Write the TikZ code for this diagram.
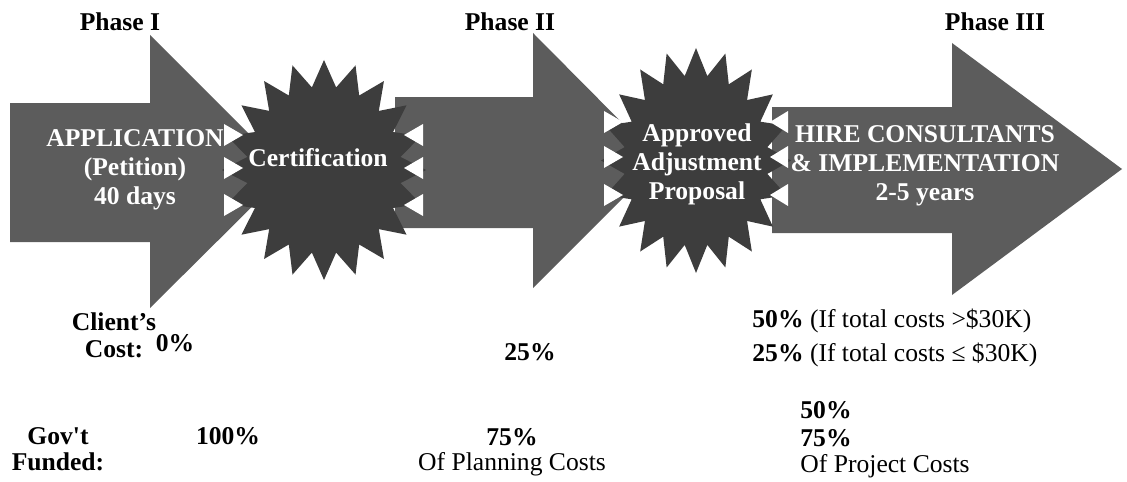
\documentclass[tikz,border=0pt]{standalone}
\usepackage{fontspec}
\setmainfont{Liberation Serif}
\definecolor{arrowgray}{gray}{0.36}
\definecolor{burstgray}{gray}{0.24}
\tikzset{
  phase/.style={font=\fontsize{12.8}{14.5}\selectfont\bfseries, inner sep=0pt},
  inlabel/.style={phase, text=white, align=center},
  cost/.style={font=\fontsize{12.8}{14.5}\selectfont, inner sep=0pt},
  blockarrow/.style={fill=arrowgray},
  burst/.style={fill=burstgray},
  notch/.style={fill=white}
}
\begin{document}
\begin{tikzpicture}[x=0.5pt,y=-0.5pt]
\useasboundingbox (0,0) rectangle (1127,481);
% Flechas
\fill[blockarrow] (10,103) -- (150,103) -- (150,35) -- (287,172) -- (150,308) -- (150,242) -- (10,242) -- cycle;
\fill[blockarrow] (395,97) -- (533,97) -- (533,33) -- (660,161) -- (533,288) -- (533,228) -- (395,228) -- cycle;
\fill[blockarrow] (772,107) -- (952,107) -- (952,43) -- (1122,169) -- (952,295) -- (952,233) -- (772,233) -- cycle;
% Estrellas
\fill[burst] (324,60) \foreach \k in {1,...,39}{
  -- ({324+(1-0.24*mod(\k,2))*102*cos(90+9*\k)},{170-(1-0.24*mod(\k,2))*110*sin(90+9*\k)})} -- cycle;
\fill[burst] (696,48) \foreach \k in {1,...,39}{
  -- ({696+(1-0.24*mod(\k,2))*95*cos(90+9*\k)},{160.5-(1-0.24*mod(\k,2))*112.5*sin(90+9*\k)})} -- cycle;
\foreach \y in {135,168,205}{
  \fill[notch] (224,\y-11) -- (243,\y) -- (224,\y+11) -- cycle;
  \fill[notch] (423,\y-11) -- (404,\y) -- (423,\y+11) -- cycle;}
\foreach \y in {122,157,195}{
  \fill[notch] (604,\y-11) -- (623,\y) -- (604,\y+11) -- cycle;
  \fill[notch] (788,\y-11) -- (770,\y) -- (788,\y+11) -- cycle;}
% Textos
\node[phase] (ph1) at (120,22) {Phase I};
\node[phase] (ph2) at (510,22) {Phase II};
\node[phase] (ph3) at (995,22) {Phase III};
\node[inlabel] (app) at (135,170) {APPLICATION\\(Petition)\\40 days};
\node[inlabel] (cert) at (318,158) {Certification};
\node[inlabel] (adj) at (697,164) {Approved\\Adjustment\\Proposal};
\node[inlabel] (hire) at (925,166) {HIRE CONSULTANTS\\\& IMPLEMENTATION\\2-5 years};
\node[phase] (client) at (114,322) {Client’s};
\node[phase] (cost) at (114,349) {Cost:};
\node[phase] (c1) at (175,343) {0\%};
\node[phase] (c2) at (530,352) {25\%};
\node[cost,anchor=west] (c3a) at (752,321) {\textbf{50\%} (If total costs >\$30K)};
\node[cost,anchor=west] (c3b) at (752,355) {\textbf{25\%} (If total costs ≤ \$30K)};
\node[phase] (gov) at (58,436) {Gov\textquotesingle t};
\node[phase] (funded) at (58,462) {Funded:};
\node[phase] (g1) at (228,436) {100\%};
\node[phase] (g2) at (512,437) {75\%};
\node[cost] (g2b) at (512,464) {Of Planning Costs};
\node[phase,anchor=west] (g3a) at (800,410) {50\%};
\node[phase,anchor=west] (g3b) at (800,438) {75\%};
\node[cost,anchor=west] (g3c) at (800,466) {Of Project Costs};
\end{tikzpicture}
\end{document}
